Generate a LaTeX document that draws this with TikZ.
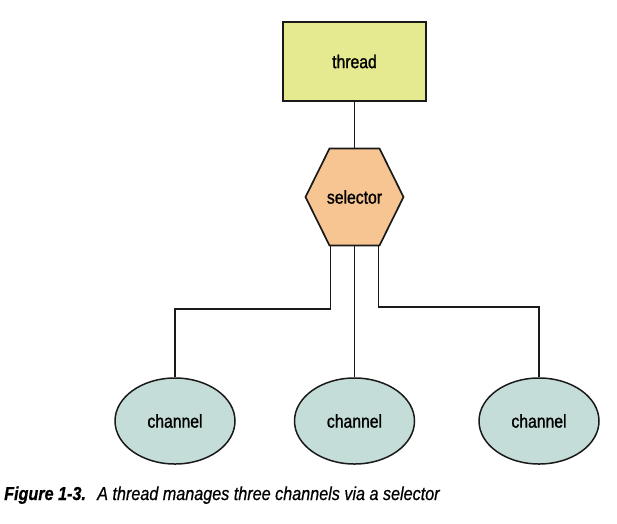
\documentclass[tikz,border=0pt]{standalone}
\usepackage{fontspec}
\setmainfont{Liberation Sans}
\newfontfamily\condfont[FakeStretch=0.85,FakeBold=1.2]{Liberation Sans}
\newfontfamily\capfont[FakeStretch=0.86,FakeBold=0.6]{Liberation Sans}
\usetikzlibrary{calc,shapes.geometric}
\definecolor{threadfill}{HTML}{E5EA91}
\definecolor{selfill}{HTML}{F7C592}
\definecolor{chanfill}{HTML}{C4DDD8}
\definecolor{edgec}{HTML}{1A1A1A}
\begin{document}
\begin{tikzpicture}[x=1pt,y=-1pt,
  lbl/.style={font=\condfont\fontsize{18.5}{22}\selectfont},
  box/.style={lbl,draw=edgec,line width=1.7pt,fill=threadfill,minimum width=143pt,minimum height=79pt,inner sep=0pt},
  hexdraw/.style={draw=edgec,line width=1.7pt,fill=selfill,line join=miter},
  hexa/.style={lbl,minimum width=98pt,minimum height=97pt,inner sep=0pt},
  chan/.style={lbl,ellipse,draw=edgec,line width=1.5pt,fill=chanfill,minimum width=120pt,minimum height=86pt,inner sep=0pt},
  link/.style={draw=edgec,line width=1.6pt}]
\useasboundingbox (0,0) rectangle (617,523);
\node[box] (thr) at (354.5,61.5) {thread};
\coordinate (sc) at (354.5,197);
\draw[hexdraw] ($(sc)+(-25,-48.5)$) -- ($(sc)+(25,-48.5)$) -- ($(sc)+(49,0)$) -- ($(sc)+(25,48.5)$) -- ($(sc)+(-25,48.5)$) -- ($(sc)+(-49,0)$) -- cycle;
\node[hexa] (sel) at (sc) {selector};
\node[chan] (c1) at (175,421) {channel};
\node[chan] (c2) at (354.5,421) {channel};
\node[chan] (c3) at (539,421) {channel};
\draw[link] (thr.south) -- (sel.north);
\draw[link] ([xshift=-24pt]sel.south) -- ++(0,63.5) -| (c1.north);
\draw[link] (sel.south) -- (c2.north);
\draw[link] ([xshift=24pt]sel.south) -- ++(0,61.5) -| (c3.north);
\node[anchor=base west,inner sep=0pt,font=\capfont\fontsize{18.8}{22}\selectfont\itshape] (cap) at (4,500) {\textbf{Figure 1-3.}\hspace{0.6em}A thread manages three channels via a selector};
\end{tikzpicture}
\end{document}
